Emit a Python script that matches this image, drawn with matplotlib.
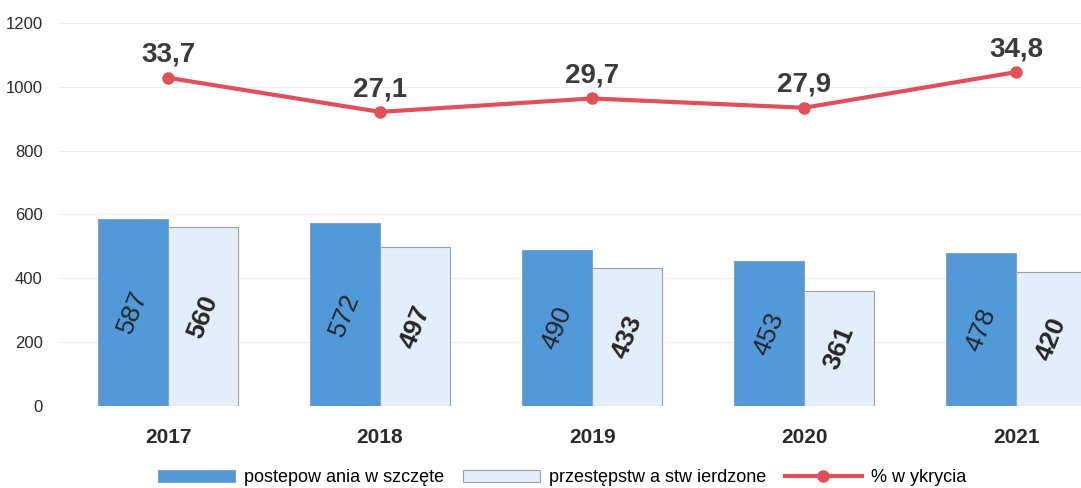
import matplotlib.pyplot as plt
import numpy as np

years = ["2017", "2018", "2019", "2020", "2021"]
wszczete = [587, 572, 490, 453, 478]
stwierdzone = [560, 497, 433, 361, 420]
wykrycie = [33.7, 27.1, 29.7, 27.9, 34.8]
wykrycie_txt = ["33,7", "27,1", "29,7", "27,9", "34,8"]

plt.rcParams["font.family"] = ["Liberation Sans", "DejaVu Sans"]

fig = plt.figure(figsize=(10.81, 4.88), dpi=100)
ax = fig.add_axes([0.055, 0.168, 0.945, 0.785])
x = np.arange(len(years))
w = 0.33

b1 = ax.bar(x - w / 2, wszczete, w, color="#5199d9", edgecolor="#8aa0b8", lw=0.8,
            label="postepow ania w szczęte")
b2 = ax.bar(x + w / 2, stwierdzone, w, color="#e2eef9", edgecolor="#9aa0a6", lw=0.8,
            label="przestępstw a stw ierdzone")
for xi, v in zip(x, wszczete):
    ax.text(xi - w / 2, v / 2, str(v), rotation=68, ha="center", va="center",
            fontsize=19, color="#262626")
for xi, v in zip(x, stwierdzone):
    ax.text(xi + w / 2, v / 2, str(v), rotation=68, ha="center", va="center",
            fontsize=19, fontweight="bold", color="#262626")

ax.set_ylim(0, 1200)
ax.set_xlim(-0.512, 4.306)
ax.set_yticks(range(0, 1201, 200))
ax.yaxis.grid(True, color="#eeeeee", lw=0.8)
ax.set_axisbelow(True)
for s in ax.spines.values():
    s.set_visible(False)
ax.tick_params(length=0)
ax.tick_params(axis="y", labelsize=12, colors="#2a2a2a", pad=12)
ax.set_xticks(x)
ax.set_xticklabels(years, fontsize=15, fontweight="bold", color="#2a2a2a")
ax.tick_params(axis="x", pad=16)

ax2 = ax.twinx()
ax2.set_ylim(-29.75, 44.3)
ax2.axis("off")
ln, = ax2.plot(x, wykrycie, color="#e0505a", lw=3, marker="o", ms=8,
               label="% w ykrycia")
for xi, v, t in zip(x, wykrycie, wykrycie_txt):
    ax2.text(xi, v + 1.9, t, ha="center", va="bottom", fontsize=20,
             fontweight="bold", color="#3a3a3a")

fig.legend(handles=[b1, b2, ln], loc="lower center", bbox_to_anchor=(0.52, -0.03),
           ncol=3, frameon=False, fontsize=13, handlelength=4.3, columnspacing=1.0,
           handletextpad=0.5)

fig.savefig("out.png", dpi=100)
